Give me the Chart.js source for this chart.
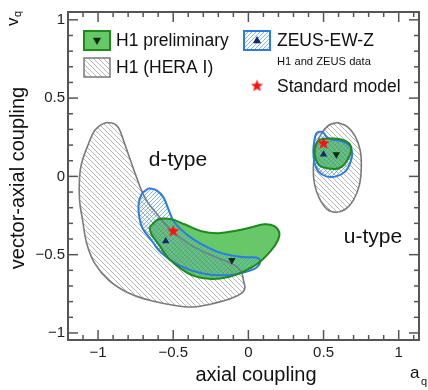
<!DOCTYPE html>
<html><head><meta charset="utf-8">
<script src="https://cdn.jsdelivr.net/npm/chart.js@4/dist/chart.umd.min.js"></script>
<style>html,body{margin:0;padding:0;background:#fff}#wrap{width:428px;height:390px;position:relative}</style>
</head><body><div id="wrap"><canvas id="c" width="428" height="390"></canvas></div>
<script>
// ---- data ----
const xTickValues=[-1,-0.5,0,0.5,1];
const yTickValues=[-1,-0.5,0,0.5,1];
// H1 (HERA I) d-type contour
const grayD_a=[-0.944,-0.897,-0.864,-0.824,-0.777,-0.744,-0.711,-0.678,-0.645,-0.512,-0.359,-0.199,-0.093,-0.047,-0.033,-0.027,-0.093,-0.246,-0.399,-0.578,-0.664,-0.797,-0.930,-1.023,-1.076,-1.103,-1.123,-1.123,-1.110,-1.063,-1.023,-0.977];
const grayD_v=[0.344,0.338,0.312,0.210,0.083,-0.006,-0.089,-0.153,-0.197,-0.344,-0.452,-0.522,-0.567,-0.611,-0.662,-0.726,-0.771,-0.815,-0.834,-0.809,-0.790,-0.745,-0.662,-0.554,-0.427,-0.280,-0.153,-0.006,0.083,0.210,0.293,0.331];
// H1 (HERA I) u-type contour
const grayU_a=[0.591,0.658,0.711,0.744,0.751,0.738,0.698,0.645,0.585,0.525,0.472,0.439,0.432,0.445,0.478,0.532];
const grayU_v=[0.344,0.318,0.255,0.166,0.057,-0.057,-0.153,-0.210,-0.229,-0.210,-0.140,-0.045,0.057,0.166,0.261,0.325];
// H1 preliminary d-type contour
const greenD_a=[-0.658,-0.598,-0.512,-0.425,-0.312,-0.199,-0.066,0.020,0.106,0.173,0.206,0.193,0.153,0.066,-0.027,-0.133,-0.246,-0.359,-0.445,-0.532,-0.598,-0.645];
const greenD_v=[-0.325,-0.274,-0.274,-0.306,-0.350,-0.363,-0.344,-0.325,-0.306,-0.318,-0.363,-0.414,-0.471,-0.554,-0.605,-0.643,-0.656,-0.637,-0.592,-0.522,-0.433,-0.369];
// H1 preliminary u-type contour
const greenU_a=[0.439,0.465,0.551,0.618,0.671,0.684,0.671,0.638,0.598,0.532,0.472,0.445];
const greenU_v=[0.178,0.229,0.242,0.236,0.210,0.172,0.127,0.076,0.051,0.051,0.070,0.121];
// ZEUS-EW-Z d-type contour
const blueD_a=[-0.664,-0.711,-0.731,-0.724,-0.704,-0.645,-0.578,-0.465,-0.312,-0.133,0.020,0.073,0.066,-0.027,-0.179,-0.312,-0.412,-0.492,-0.532,-0.565,-0.611];
const blueD_v=[-0.076,-0.115,-0.185,-0.268,-0.331,-0.408,-0.490,-0.567,-0.618,-0.631,-0.599,-0.561,-0.522,-0.516,-0.490,-0.433,-0.369,-0.293,-0.210,-0.134,-0.089];
// ZEUS-EW-Z u-type contour
const blueU_a=[0.472,0.498,0.518,0.551,0.631,0.678,0.691,0.678,0.645,0.585,0.518,0.465,0.439,0.432,0.439,0.452];
const blueU_v=[0.287,0.280,0.255,0.236,0.223,0.191,0.146,0.089,0.032,0.000,0.000,0.032,0.089,0.166,0.229,0.274];
// best-fit points
const h1_a=[-0.11,0.585], h1_v=[-0.535,0.14];
const zeus_a=[-0.55,0.50], zeus_v=[-0.414,0.14];
const sm_a=[-0.5,0.5], sm_v=[-0.35,0.21];

// ---- styling helpers ----
const FONT='"Liberation Sans", Arial, Helvetica, sans-serif';
function hatch(color,dir,s,lw){
  const c=document.createElement('canvas');c.width=c.height=s;const g=c.getContext('2d');
  g.strokeStyle=color;g.lineWidth=lw;g.beginPath();
  if(dir>0){g.moveTo(0,s);g.lineTo(s,0);g.moveTo(-1,1);g.lineTo(1,-1);g.moveTo(s-1,s+1);g.lineTo(s+1,s-1);}
  else{g.moveTo(0,0);g.lineTo(s,s);g.moveTo(-1,s-1);g.lineTo(1,s+1);g.moveTo(s-1,-1);g.lineTo(s+1,1);}
  g.stroke();return g.createPattern(c,'repeat');
}
const ctx0=document.getElementById('c').getContext('2d');
const grayHatch=hatch('rgba(120,120,120,0.6)',-1,5,0.9);
const blueHatch=hatch('rgba(60,140,255,0.7)',1,4,0.9);
const GREEN='#66c866', GREEN_L='#1e8a1e', BLUE_L='#2b7be6', GRAY_L='#7a7a7a';
function starCanvas(r,color){
  const s=Math.ceil(r*2+2);const c=document.createElement('canvas');c.width=c.height=s;const g=c.getContext('2d');
  g.fillStyle=color;g.beginPath();
  for(let i=0;i<10;i++){const rr=i%2?r*0.42:r;const ang=-Math.PI/2+i*Math.PI/5;g.lineTo(s/2+rr*Math.cos(ang),s/2+rr*Math.sin(ang));}
  g.closePath();g.fill();return c;
}
const star=starCanvas(6.5,'#ff1010');
const poly=(a,v)=>a.map((x,i)=>({x,y:v[i]})).concat([{x:a[0],y:v[0]}]);
const pts=(a,v)=>a.map((x,i)=>({x,y:v[i]}));
const shape=(data,bg,border,bw,order)=>({data,showLine:true,fill:'shape',backgroundColor:bg,borderColor:border,borderWidth:bw,pointRadius:0,tension:0.4,order});

// ---- decorations: frame, inner ticks, titles, legend ----
const deco={id:'deco',afterDraw(chart){
  const {ctx,chartArea:a,scales:{x,y}}=chart;
  ctx.save();
  ctx.strokeStyle='#555';ctx.lineWidth=1.5;
  const ln=(x1,y1,x2,y2)=>{ctx.beginPath();ctx.moveTo(x1,y1);ctx.lineTo(x2,y2);ctx.stroke();};
  for(let i=-12;i<=12;i++){const p=x.getPixelForValue(i/10);if(p<a.left+1||p>a.right-1)continue;const L=(Math.abs(i)%5===0)?10:5;ln(p,a.bottom,p,a.bottom-L);ln(p,a.top,p,a.top+L);}
  for(let i=-11;i<=11;i++){const p=y.getPixelForValue(i/10);if(p<a.top+1||p>a.bottom-1)continue;const L=(Math.abs(i)%5===0)?10:5;ln(a.left,p,a.left+L,p);ln(a.right,p,a.right-L,p);}
  ctx.lineWidth=2;ctx.strokeRect(a.left,a.top,a.right-a.left,a.bottom-a.top);
  ctx.fillStyle='#111';ctx.textBaseline='middle';
  // axis titles
  ctx.font='20px '+FONT;ctx.textAlign='center';
  ctx.fillText('axial coupling',256,375);
  ctx.save();ctx.translate(18,178);ctx.rotate(-Math.PI/2);ctx.fillText('vector-axial coupling',0,0);ctx.restore();
  ctx.textAlign='left';
  ctx.font='17px '+FONT;ctx.fillText('a',410,373);ctx.font='11px '+FONT;ctx.fillText('q',421,382);
  ctx.save();ctx.translate(13,26);ctx.rotate(-Math.PI/2);ctx.font='17px '+FONT;ctx.fillText('v',0,0);ctx.font='11px '+FONT;ctx.fillText('q',9,5);ctx.restore();
  // region labels
  ctx.font='21px '+FONT;ctx.textAlign='center';
  ctx.fillText('d-type',178,160);ctx.fillText('u-type',373,237);
  // legend
  ctx.textAlign='left';
  const box=(x0,y0,w,h,fill,stroke,lw)=>{ctx.fillStyle='#fff';ctx.fillRect(x0,y0,w,h);ctx.fillStyle=fill;ctx.fillRect(x0,y0,w,h);ctx.strokeStyle=stroke;ctx.lineWidth=lw;ctx.strokeRect(x0,y0,w,h);};
  const tri=(cx,cy,r,down,color)=>{ctx.fillStyle=color;ctx.beginPath();const d=down?-1:1;ctx.moveTo(cx,cy-d*r);ctx.lineTo(cx+r*0.9,cy+d*r*0.6);ctx.lineTo(cx-r*0.9,cy+d*r*0.6);ctx.closePath();ctx.fill();};
  box(84,31,26,19,GREEN,GREEN_L,2);tri(97,40.5,4.5,true,'#0b2a0b');
  box(84,58,26,19,grayHatch,GRAY_L,1.5);
  box(244,31,26,19,blueHatch,BLUE_L,2);tri(257,40.5,4.5,false,'#14286e');
  ctx.drawImage(star,257-star.width/2,86-star.height/2);
  ctx.fillStyle='#111';ctx.font='17.5px '+FONT;
  ctx.fillText('H1 preliminary',116,41);
  ctx.fillText('H1 (HERA I)',116,68);
  ctx.fillText('ZEUS-EW-Z',277,41);
  ctx.fillText('Standard model',277,87);
  ctx.font='11.2px '+FONT;ctx.fillText('H1 and ZEUS data',277,62);
  ctx.restore();
}};

const tickFmt=v=>v<0?'\u2212'+Math.abs(v):String(v);
new Chart(document.getElementById('c'),{
  type:'scatter',
  data:{datasets:[
    shape(poly(greenD_a,greenD_v),GREEN,'rgba(0,0,0,0)',0,9),
    shape(poly(greenU_a,greenU_v),GREEN,'rgba(0,0,0,0)',0,9),
    shape(poly(grayD_a,grayD_v),grayHatch,GRAY_L,1.6,8),
    shape(poly(grayU_a,grayU_v),grayHatch,GRAY_L,1.6,8),
    shape(poly(blueD_a,blueD_v),blueHatch,BLUE_L,2,7),
    shape(poly(blueU_a,blueU_v),blueHatch,BLUE_L,2,7),
    Object.assign(shape(poly(greenD_a,greenD_v),'rgba(0,0,0,0)',GREEN_L,2,6),{fill:false}),
    Object.assign(shape(poly(greenU_a,greenU_v),'rgba(0,0,0,0)',GREEN_L,2,6),{fill:false}),
    {data:pts(h1_a,h1_v),pointStyle:'triangle',rotation:180,pointRadius:4.3,backgroundColor:'#0b2a0b',borderColor:'#0b2a0b',borderWidth:0,order:2},
    {data:pts(zeus_a,zeus_v),pointStyle:'triangle',pointRadius:4.3,backgroundColor:'#14286e',borderColor:'#14286e',borderWidth:0,order:2},
    {data:pts(sm_a,sm_v),pointStyle:star,pointRadius:7,order:1}
  ]},
  options:{
    responsive:false,animation:false,devicePixelRatio:1,
    layout:{padding:{top:11,right:9,left:0,bottom:0}},
    plugins:{legend:{display:false},tooltip:{enabled:false}},
    scales:{
      x:{type:'linear',min:-1.2,max:1.135,
        afterBuildTicks:s=>{s.ticks=xTickValues.map(v=>({value:v}));},
        afterFit:s=>{s.height=50;},
        grid:{display:false,drawTicks:false},border:{display:false},
        ticks:{callback:tickFmt,font:{family:FONT,size:15},color:'#222',padding:4,maxRotation:0}},
      y:{type:'linear',min:-1.045,max:1.05,
        afterBuildTicks:s=>{s.ticks=yTickValues.map(v=>({value:v}));},
        afterFit:s=>{s.width=68;},
        grid:{display:false,drawTicks:false},border:{display:false},
        ticks:{callback:tickFmt,font:{family:FONT,size:15},color:'#222',padding:3}}
    }
  },
  plugins:[deco]
});
</script></body></html>
